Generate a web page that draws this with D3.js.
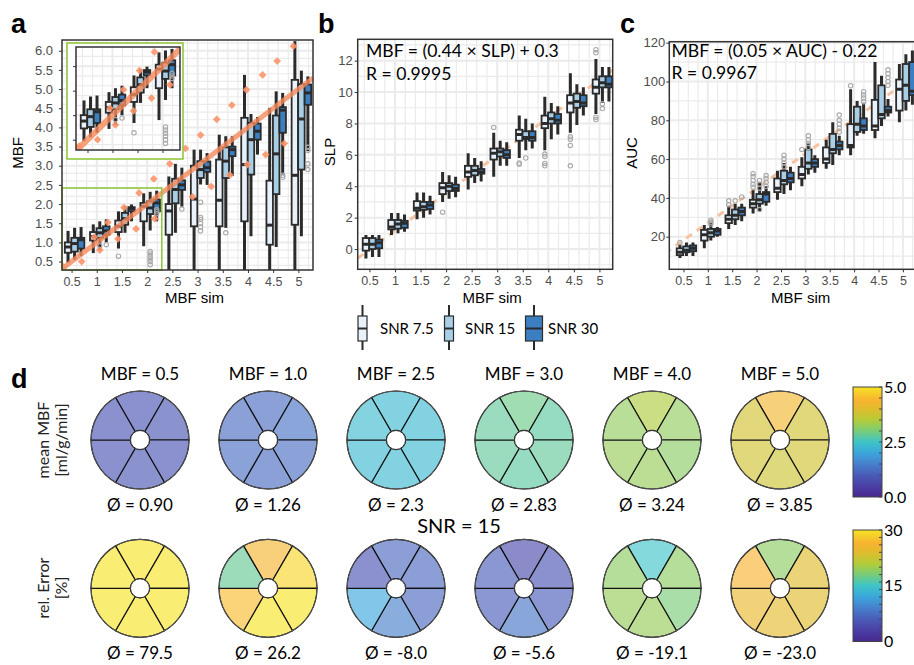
<!DOCTYPE html>
<html>
<head>
<meta charset="utf-8">
<script src="https://cdn.jsdelivr.net/npm/d3@7.9.0/dist/d3.min.js"></script>
<style>
  body { margin: 0; background: #fff; }
  svg { display: block; }
</style>
</head>
<body>
<svg id="fig" width="914" height="665"></svg>
<script>
// ---------- data ----------
const mbfSim = [0.5, 1, 1.5, 2, 2.5, 3, 3.5, 4, 4.5, 5];
const snrNames = ['SNR 7.5', 'SNR 15', 'SNR 30'];
const snrFill = ['#e9f1fb', '#a8cfe6', '#3b7fc1'];

// box stats: [lowWhisker, q1, median, q3, highWhisker], one row per mbfSim
const boxA75 = [[0.47,0.73,0.88,1.0,1.30],[0.72,1.05,1.15,1.27,1.47],[0.84,1.27,1.42,1.57,1.81],[0.90,1.55,1.94,2.03,2.28],[0.0,1.2,1.82,2.0,2.72],[0.0,1.42,2.13,3.0,3.42],[0.0,1.42,2.1,3.16,3.81],[0.0,1.55,3.03,4.25,5.37],[0.0,0.94,1.45,2.61,4.51],[0.0,1.46,2.75,5.24,6.25]];
const boxA15 = [[0.55,0.76,0.97,1.12,1.38],[0.80,1.12,1.25,1.37,1.55],[1.25,1.46,1.62,1.77,1.94],[1.31,1.74,1.90,2.07,2.32],[1.25,2.02,2.38,2.66,3.05],[2.51,2.68,2.90,3.12,3.42],[1.38,2.68,3.12,3.48,3.77],[1.16,2.77,3.68,4.12,4.35],[0.88,2.26,3.31,4.31,4.94],[1.16,2.90,4.22,5.13,5.48]];
const boxA30 = [[0.64,0.84,1.07,1.12,1.40],[1.0,1.2,1.3,1.42,1.6],[1.55,1.81,1.88,1.92,1.99],[1.55,1.81,2.03,2.12,2.35],[1.93,2.37,2.5,2.62,2.95],[2.5,2.84,2.95,3.11,3.33],[2.73,3.25,3.42,3.5,3.77],[3.29,3.68,3.9,4.1,4.27],[2.77,3.86,4.45,4.53,4.9],[3.38,4.59,4.9,5.12,5.33]];
// outliers: [mbfSim, snrIndex, value]
const outA = [[1,1,0.91],[1,2,0.94],[1.5,0,0.64],[2,1,0.42],[2,1,0.5],[2,1,0.57],[2,1,0.63],[2,1,0.7],[2,1,0.76],[2,2,1.75],[2,2,1.8],[2,2,1.85],[2.5,2,1.87],[3,1,1.3],[3,1,1.4],[3,1,1.5],[3,1,1.6],[3,1,1.65],[3,1,2.05],[3.5,1,1.25],[4.5,2,2.7],[4.5,2,2.75],[5,2,2.9],[5,2,3.05],[5,2,3.4],[5,2,3.48]];
// orange diamonds [x, y]
const diamondsA = [[0.33,0.37],[0.70,0.5],[0.95,1.14],[1.06,0.80],[1.22,1.52],[1.42,1.09],[1.54,1.91],[1.78,1.35],[1.84,2.29],[2.15,1.62],[2.13,2.66],[2.45,3.05],[2.76,3.45],[2.90,2.19],[3.06,3.80],[3.27,2.46],[3.38,4.21],[3.64,2.76],[3.68,4.58],[3.97,4.98],[3.99,3.03],[4.29,5.37],[4.35,3.29],[4.58,5.73],[4.72,3.58],[4.90,6.12]];

const boxB75 = [[-0.6,-0.1,0.3,0.7,0.9],[0.9,1.25,1.4,1.85,2.3],[1.9,2.45,2.6,3.05,3.6],[3.0,3.5,3.9,4.2,4.9],[3.8,4.6,4.9,5.3,6.1],[4.6,5.7,6.1,6.4,7.4],[5.8,6.9,7.3,7.6,8.5],[6.3,7.7,8.0,8.5,9.7],[7.4,8.7,9.3,9.8,11.2],[8.6,9.9,10.3,10.8,12.1]];
const boxB15 = [[-0.5,0.0,0.3,0.7,0.9],[1.0,1.3,1.6,1.85,2.3],[2.0,2.5,2.7,3.0,3.6],[3.2,3.7,4.0,4.2,4.7],[4.2,4.7,5.0,5.3,5.8],[5.3,5.9,6.2,6.4,6.9],[6.3,7.0,7.1,7.5,8.3],[7.0,8.0,8.3,8.7,9.3],[7.9,9.0,9.4,9.9,10.5],[9.3,10.3,10.6,11.0,11.6]];
const boxB30 = [[-0.5,0.05,0.4,0.6,0.9],[1.1,1.35,1.65,1.8,2.2],[2.2,2.55,2.8,3.0,3.4],[3.3,3.7,3.85,4.1,4.6],[4.3,4.8,4.9,5.1,5.6],[5.3,5.8,6.0,6.3,6.8],[6.4,6.9,7.1,7.5,8.0],[7.3,8.0,8.2,8.6,9.1],[8.5,9.1,9.3,9.8,10.3],[9.4,10.3,10.5,11.0,11.6]];
const outB = [[2,0,2.35],[3,0,7.75],[3.5,0,5.4],[3.5,0,5.48],[3.5,1,5.8],[4,0,5.3],[4,0,5.45],[4,0,5.9],[4,0,6.05],[4.5,0,5.3],[4.5,0,6.6],[4.5,0,7.0],[4.5,0,7.15],[5,0,8.25],[5,0,8.4],[5,0,12.5],[5,0,12.7],[5,1,8.95],[5,1,9.25]];
const fitB = [-0.59, 11.4]; // SLP at MBF sim 0.27 and 5.26

const boxC75 = [[9,10.5,12,14,16],[14,18,21,23.5,26],[24,27,29,31,36],[32,35,37,39,44],[39,43,45,50,54],[46,50,52,56,61],[55,58,60,66,70],[62,66,67,78,96],[70.7,75,77,90.5,110],[79,85,96,101,109]];
const boxC15 = [[10,12,13,15,17],[18,20,22,24,27],[26,29,31,34,37],[33,37,39,42,48],[42,47,49,54,58],[52,55,58,65,68],[57,63,65,73,79],[72,74,78,87,90],[77,81,83,98,103],[85,90,98,109,114]];
const boxC30 = [[10,12.5,14,15.5,17],[20,21,23,24,25],[28,31,33,35,37],[36,38,42,43,46],[44,48,50,53,56],[53,56,58,60,62],[62,65,67,69,72],[73,75,77,81,89],[82,84,85,87,91],[88,93,95,110,116]];
const outC = [[0.5,0,17],[1,1,26.5],[1,1,27.5],[1,1,28.5],[1.5,0,36.5],[1.5,0,38.5],[1.5,1,38.5],[1.5,2,40.5],[2,0,45.5],[2,0,47],[2,0,49],[2,0,51],[2,0,52.5],[2,1,34],[2,1,45],[2,1,47],[2,1,49],[2,2,46],[2,2,48],[2,2,50],[2,2,51.5],[2.5,1,56],[2.5,1,58],[2.5,1,60],[2.5,1,62],[3,0,65],[3,1,66],[3,1,68],[3,1,70],[3,1,72],[3.5,2,74],[3.5,2,76],[3.5,2,78],[3.5,2,80],[3.5,2,82.7],[4,0,97.8],[4,2,89.6],[4,2,91.5],[4,2,93],[4,2,94.7],[4.5,2,98],[4.5,2,100],[4.5,2,102],[4.5,2,104],[4.5,2,106]];
const fitC = [11.4, 100.8]; // AUC at MBF sim 0.12 and 5.13

// panel d: segment values [top, topRight, bottomRight, bottom, bottomLeft, topLeft]
const polarTitles = ['MBF = 0.5', 'MBF = 1.0', 'MBF = 2.5', 'MBF = 3.0', 'MBF = 4.0', 'MBF = 5.0'];
const meanMBF = [[0.85,0.9,0.85,0.9,0.85,0.85],[1.2,1.3,1.25,1.2,1.25,1.2],[2.3,2.3,2.3,2.3,2.3,2.35],[2.9,2.75,2.8,2.75,2.8,2.8],[3.45,3.2,3.15,3.25,3.25,3.2],[4.3,3.8,3.8,3.75,3.8,3.85]];
const meanMBFLabels = ['0.90', '1.26', '2.3', '2.83', '3.24', '3.85'];
const relErr = [[30,30,30,30,30,30],[26,29,30,30,27,17],[7,7,7,9,12,5],[4,5,6,8,6,6],[15,19,18,19.5,19.5,19],[19,24,24,24.5,25,26.5]];
const relErrLabels = ['79.5', '26.2', '-8.0', '-5.6', '-19.1', '-23.0'];
const cmapStops = ['#48288c','#4a3fa6','#4a5cb8','#4680cc','#3ca6dc','#3ec4c8','#78cc78','#b4cc38','#e0bc2c','#f8b230','#f5e324'];
const cmapPos = [0, 0.1, 0.2, 0.3, 0.4, 0.5, 0.6, 0.7, 0.8, 0.88, 1];

// ---------- drawing ----------
const svg = d3.select('#fig');
const sansFont = '"Liberation Sans", Arial, sans-serif';
const calFont = '"Lato", "Liberation Sans", sans-serif';
const ink = '#2b2b2b';
const dodge = d3.scalePoint().domain([0, 1, 2]).range([-3.5, 9.5]);
const boxW = 6.5;

let clipId = 0;
function frame(cfg) {
  const x = d3.scaleLinear().domain(cfg.xd).range([cfg.x0, cfg.x1]);
  const y = d3.scaleLinear().domain(cfg.yd).range([cfg.y1, cfg.y0]);
  const g = svg.append('g');
  const id = 'clip' + (clipId++);
  g.append('clipPath').attr('id', id).append('rect')
    .attr('x', cfg.x0).attr('y', cfg.y0).attr('width', cfg.x1 - cfg.x0).attr('height', cfg.y1 - cfg.y0);
  g.append('rect').attr('x', cfg.x0).attr('y', cfg.y0).attr('width', cfg.x1 - cfg.x0).attr('height', cfg.y1 - cfg.y0).attr('fill', '#fff');
  const grid = g.append('g').attr('stroke', '#ebebeb');
  grid.selectAll('.vx').data(x.ticks(cfg.xt * 2)).join('line')
    .attr('x1', d => x(d)).attr('x2', d => x(d)).attr('y1', cfg.y0).attr('y2', cfg.y1)
    .attr('stroke-width', d => x.ticks(cfg.xt).includes(d) ? 2 : 1.2);
  grid.selectAll('.hy').data(y.ticks(cfg.yt * 2)).join('line')
    .attr('y1', d => y(d)).attr('y2', d => y(d)).attr('x1', cfg.x0).attr('x2', cfg.x1)
    .attr('stroke-width', d => y.ticks(cfg.yt).includes(d) ? 2 : 1.2);
  const body = g.append('g').attr('clip-path', `url(#${id})`);
  return { x, y, g, body };
}

function drawBoxes(body, x, y, sets, outs) {
  sets.forEach((rows, si) => {
    const gs = body.append('g');
    rows.forEach((b, i) => {
      const cx = x(mbfSim[i]) + dodge(si);
      gs.append('line').attr('x1', cx).attr('x2', cx).attr('y1', y(b[0])).attr('y2', y(b[4]))
        .attr('stroke', ink).attr('stroke-width', 3);
      gs.append('rect').attr('x', cx - boxW / 2).attr('y', y(b[3])).attr('width', boxW)
        .attr('height', Math.max(1, y(b[1]) - y(b[3])))
        .attr('fill', snrFill[si]).attr('stroke', ink).attr('stroke-width', 1.8);
      gs.append('line').attr('x1', cx - boxW / 2).attr('x2', cx + boxW / 2).attr('y1', y(b[2])).attr('y2', y(b[2]))
        .attr('stroke', ink).attr('stroke-width', 3);
    });
  });
  body.append('g').selectAll('circle').data(outs).join('circle')
    .attr('cx', d => x(d[0]) + dodge(d[1])).attr('cy', d => y(d[2])).attr('r', 2.2)
    .attr('fill', 'none').attr('stroke', '#a9a9a9').attr('stroke-width', 1.1);
}

function axes(p, cfg) {
  const { x, y, g } = p;
  const xa = g.append('g').attr('transform', `translate(0,${cfg.y1})`)
    .call(d3.axisBottom(x).tickValues(mbfSim).tickFormat(d3.format('~g')).tickSize(3).tickPadding(4));
  const ya = g.append('g').attr('transform', `translate(${cfg.x0},0)`)
    .call(d3.axisLeft(y).ticks(cfg.yt).tickFormat(cfg.yf).tickSize(3).tickPadding(cfg.ypad));
  [xa, ya].forEach(a => {
    a.select('.domain').remove();
    a.selectAll('line').attr('stroke', '#333');
    a.selectAll('text').attr('fill', '#4d4d4d');
  });
  xa.selectAll('text').style('font', `12.5px ${sansFont}`);
  ya.selectAll('text').style('font', `13px ${sansFont}`);
  g.append('rect').attr('x', cfg.x0).attr('y', cfg.y0).attr('width', cfg.x1 - cfg.x0).attr('height', cfg.y1 - cfg.y0)
    .attr('fill', 'none').attr('stroke', '#333').attr('stroke-width', 1.5);
  g.append('text').attr('x', (cfg.x0 + cfg.x1) / 2 + 7).attr('y', 302.5).attr('text-anchor', 'middle')
    .style('font', `15px ${sansFont}`).text('MBF sim');
  g.append('text').attr('transform', `translate(${cfg.ytx},${cfg.yty}) rotate(-90)`).attr('text-anchor', 'middle')
    .style('font', `15px ${sansFont}`).text(cfg.ytitle);
  g.append('text').attr('x', cfg.lx).attr('y', 33).style('font', `bold 27px ${sansFont}`).text(cfg.label);
}

// ----- panel a -----
const cfgA = { x0: 62, x1: 313, y0: 40, y1: 270, xd: [0.31, 5.29], yd: [0.28, 6.28], xt: 10, yt: 12,
  yf: d3.format('.1f'), ypad: 6, ytitle: 'MBF', ytx: 23, yty: 153, label: 'a', lx: 11 };
const pa = frame(cfgA);
drawBoxes(pa.body, pa.x, pa.y, [boxA75, boxA15, boxA30], outA);
pa.body.append('line').attr('x1', pa.x(cfgA.xd[0])).attr('y1', pa.y(cfgA.xd[0])).attr('x2', pa.x(cfgA.xd[1])).attr('y2', pa.y(cfgA.xd[1]))
  .attr('stroke', '#f5895c').attr('stroke-opacity', 0.8).attr('stroke-width', 5);
const diamond = d3.symbol(d3.symbolSquare, 30);
pa.body.append('g').selectAll('path').data(diamondsA).join('path')
  .attr('d', diamond).attr('transform', d => `translate(${pa.x(d[0])},${pa.y(d[1])}) rotate(45)`)
  .attr('fill', '#f9956b').attr('opacity', 0.9);
// zoom window in main panel
pa.g.append('rect').attr('x', pa.x(0.31)).attr('y', pa.y(2.42)).attr('width', pa.x(2.29) - pa.x(0.31)).attr('height', pa.y(0.28) - pa.y(2.42))
  .attr('fill', 'none').attr('stroke', '#92c83e').attr('stroke-width', 1.6);
axes(pa, cfgA);

// inset
pa.g.append('rect').attr('x', 67).attr('y', 43).attr('width', 116).attr('height', 116)
  .attr('fill', '#fff').attr('stroke', '#92c83e').attr('stroke-width', 1.6);
const cfgI = { x0: 76, x1: 180, y0: 47, y1: 150, xd: [0.27, 2.35], yd: [0.29, 2.39], xt: 4, yt: 4 };
const pi = frame(cfgI);
drawBoxes(pi.body, pi.x, pi.y, [boxA75, boxA15, boxA30], outA);
pi.body.append('line').attr('x1', pi.x(0.2)).attr('y1', pi.y(0.2)).attr('x2', pi.x(2.5)).attr('y2', pi.y(2.5))
  .attr('stroke', '#f5895c').attr('stroke-opacity', 0.8).attr('stroke-width', 6);
pi.body.append('g').selectAll('path').data(diamondsA).join('path')
  .attr('d', diamond).attr('transform', d => `translate(${pi.x(d[0])},${pi.y(d[1])}) rotate(45)`)
  .attr('fill', '#f9956b').attr('opacity', 0.9);
pi.g.append('g').attr('transform', `translate(0,${cfgI.y1})`)
  .call(d3.axisBottom(pi.x).tickValues([0.5, 1, 1.5, 2]).tickSize(3).tickFormat(''))
  .call(a => { a.select('.domain').remove(); a.selectAll('line').attr('stroke', '#333'); });
pi.g.append('g').attr('transform', `translate(${cfgI.x0},0)`)
  .call(d3.axisLeft(pi.y).tickValues([0.5, 1, 1.5, 2]).tickSize(3).tickFormat(''))
  .call(a => { a.select('.domain').remove(); a.selectAll('line').attr('stroke', '#333'); });
pi.g.append('rect').attr('x', cfgI.x0).attr('y', cfgI.y0).attr('width', cfgI.x1 - cfgI.x0).attr('height', cfgI.y1 - cfgI.y0)
  .attr('fill', 'none').attr('stroke', '#333').attr('stroke-width', 1.5);

// ----- panel b -----
const cfgB = { x0: 357.7, x1: 612.7, y0: 39.3, y1: 269.3, xd: [0.27, 5.26], yd: [-1.29, 13.36], xt: 10, yt: 7,
  yf: d3.format('d'), ypad: 2, ytitle: 'SLP', ytx: 335, yty: 152, label: 'b', lx: 318 };
const pb = frame(cfgB);
pb.body.append('line').attr('x1', pb.x(0.27)).attr('y1', pb.y(fitB[0])).attr('x2', pb.x(5.26)).attr('y2', pb.y(fitB[1]))
  .attr('stroke', '#f6c3a2').attr('stroke-width', 3).attr('stroke-dasharray', '7,6');
drawBoxes(pb.body, pb.x, pb.y, [boxB75, boxB15, boxB30], outB);
axes(pb, cfgB);
pb.g.append('text').attr('x', 366).attr('y', 56.5).style('font', `17.6px ${calFont}`).text('MBF = (0.44 × SLP) + 0.3');
pb.g.append('text').attr('x', 366).attr('y', 80).style('font', `17.6px ${calFont}`).text('R = 0.9995');

// ----- panel c -----
const cfgC = { x0: 669.3, x1: 918, y0: 41.7, y1: 269.3, xd: [0.21, 5.31], yd: [3.2, 120.5], xt: 10, yt: 6,
  yf: d3.format('d'), ypad: 1, ytitle: 'AUC', ytx: 637, yty: 153, label: 'c', lx: 620 };
const pc = frame(cfgC);
pc.body.append('line').attr('x1', pc.x(0.12)).attr('y1', pc.y(fitC[0])).attr('x2', pc.x(5.13)).attr('y2', pc.y(fitC[1]))
  .attr('stroke', '#f6c3a2').attr('stroke-width', 3).attr('stroke-dasharray', '7,6');
drawBoxes(pc.body, pc.x, pc.y, [boxC75, boxC15, boxC30], outC);
axes(pc, cfgC);
pc.g.append('text').attr('x', 671.5).attr('y', 56.5).style('font', `17.6px ${calFont}`).text('MBF = (0.05 × AUC) - 0.22');
pc.g.append('text').attr('x', 671.5).attr('y', 78.5).style('font', `17.6px ${calFont}`).text('R = 0.9967');

// ----- legend -----
const legX = [362.5, 449, 534];
const legW = [9, 9, 17];
const legTextX = [380, 465, 548];
const leg = svg.append('g');
snrNames.forEach((n, i) => {
  const k = leg.append('g');
  k.append('line').attr('x1', legX[i]).attr('x2', legX[i]).attr('y1', 305).attr('y2', 350).attr('stroke', ink).attr('stroke-width', 2);
  k.append('rect').attr('x', legX[i] - legW[i] / 2).attr('y', 316).attr('width', legW[i]).attr('height', 25)
    .attr('fill', snrFill[i]).attr('stroke', ink).attr('stroke-width', 1.2);
  k.append('line').attr('x1', legX[i] - legW[i] / 2).attr('x2', legX[i] + legW[i] / 2).attr('y1', 328.5).attr('y2', 328.5)
    .attr('stroke', ink).attr('stroke-width', 2);
  k.append('text').attr('x', legTextX[i]).attr('y', 333.5).style('font', `15px ${calFont}`).text(n);
});

// ----- panel d -----
const cmap = d3.scaleLinear().domain(cmapPos).range(cmapStops).clamp(true);
const pastel = c => d3.interpolateRgb(c, '#fff')(0.36);
const cxs = d3.scalePoint().domain(polarTitles).range([140, 780]);
const rOut = 49, rIn = 9.5;
const arc = d3.arc().innerRadius(rIn).outerRadius(rOut);
const segAngles = d3.range(6).map(i => [(-30 + 60 * i) * Math.PI / 180, (30 + 60 * i) * Math.PI / 180]);

function polarRow(cy, values, vmax, labels) {
  values.forEach((vals, j) => {
    const cx = cxs(polarTitles[j]);
    const g = svg.append('g').attr('transform', `translate(${cx},${cy})`);
    g.selectAll('path').data(vals).join('path')
      .attr('d', (v, k) => arc({ startAngle: segAngles[k][0], endAngle: segAngles[k][1] }))
      .attr('fill', v => pastel(cmap(v / vmax))).attr('stroke', '#111').attr('stroke-width', 1.2);
    g.append('circle').attr('r', rOut).attr('fill', 'none').attr('stroke', '#555').attr('stroke-width', 1);
    g.append('circle').attr('r', rIn).attr('fill', '#fff').attr('stroke', '#333').attr('stroke-width', 1);
    svg.append('text').attr('x', cx).attr('y', cy + 70.5).attr('text-anchor', 'middle')
      .style('font', `17px ${calFont}`).text('Ø = ' + labels[j]);
  });
}

svg.append('text').attr('x', 11).attr('y', 388).style('font', `bold 27px ${sansFont}`).text('d');
polarTitles.forEach(t => {
  svg.append('text').attr('x', cxs(t)).attr('y', 380).attr('text-anchor', 'middle').style('font', `17px ${calFont}`).text(t);
});
polarRow(440, meanMBF, 5, meanMBFLabels);
polarRow(588.3, relErr, 30, relErrLabels);
svg.append('text').attr('x', 459).attr('y', 533).attr('text-anchor', 'middle').style('font', `20px ${calFont}`).text('SNR = 15');

function rowLabel(cy, l1, l2) {
  svg.append('text').attr('transform', `translate(49,${cy}) rotate(-90)`).attr('text-anchor', 'middle')
    .style('font', `16px ${calFont}`).attr('fill', '#222').text(l1);
  svg.append('text').attr('transform', `translate(67,${cy}) rotate(-90)`).attr('text-anchor', 'middle')
    .style('font', `16px ${calFont}`).attr('fill', '#222').text(l2);
}
rowLabel(440, 'mean MBF', '[ml/g/min]');
rowLabel(588, 'rel. Error', '[%]');

// colorbars
const defs = svg.append('defs');
const grad = defs.append('linearGradient').attr('id', 'parula').attr('x1', 0).attr('y1', 1).attr('x2', 0).attr('y2', 0);
cmapStops.forEach((c, i) => grad.append('stop').attr('offset', cmapPos[i]).attr('stop-color', c));

function colorbar(y0, y1, vmax, tickVals, fmt) {
  const s = d3.scaleLinear().domain([0, vmax]).range([y1, y0]);
  const g = svg.append('g');
  g.append('rect').attr('x', 853).attr('y', y0).attr('width', 29).attr('height', y1 - y0).attr('fill', 'url(#parula)')
    .attr('stroke', '#444').attr('stroke-width', 1);
  g.selectAll('.mt').data(s.ticks(10)).join('line')
    .attr('x1', 879).attr('x2', 882).attr('y1', d => s(d)).attr('y2', d => s(d)).attr('stroke', '#444');
  g.selectAll('text').data(tickVals).join('text')
    .attr('x', 884).attr('y', d => s(d)).attr('dy', '0.35em').style('font', `16px ${calFont}`).text(fmt);
}
colorbar(387, 497, 5, [0, 2.5, 5], d3.format('.1f'));
colorbar(530, 641.5, 30, [0, 15, 30], d3.format('d'));
</script>
</body>
</html>
